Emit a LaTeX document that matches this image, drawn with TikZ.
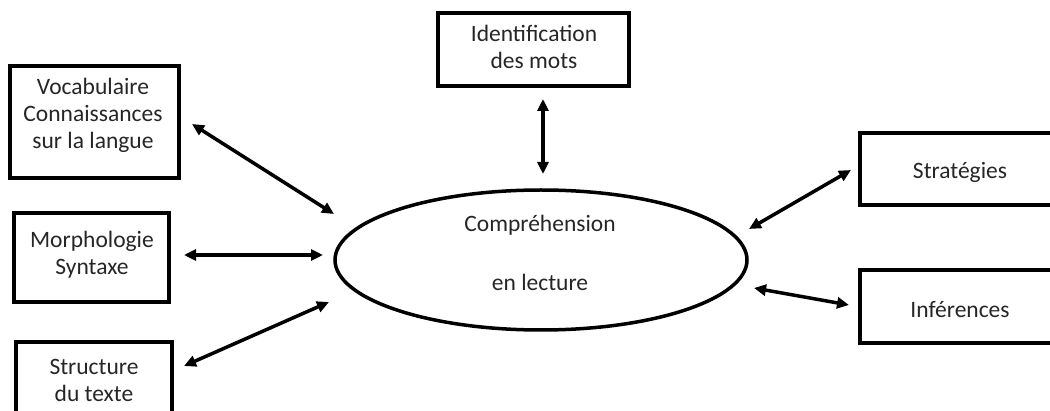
\documentclass[tikz,border=0pt]{standalone}
\usepackage{fontspec}
\setmainfont{Carlito}
\usetikzlibrary{arrows.meta}
\begin{document}
\begin{tikzpicture}[x=1pt,y=-1pt,
  txt/.style={text=black!85,font=\fontsize{23.5}{27}\selectfont,align=center},
  boxed/.style={draw=black,line width=4pt},
  link/.style={line width=3.5pt,{Triangle[length=12pt,width=11pt]}-{Triangle[length=12pt,width=11pt]}}]
\useasboundingbox (0,0) rectangle (1050,411);
\clip (0,0) rectangle (1050,411);
% boxes
\draw[boxed] (10,66) rectangle (179,178);
\node[txt] (vocab) at (93,115) {Vocabulaire\\Connaissances\\sur la langue};
\draw[boxed] (14,213) rectangle (169,302);
\node[txt] (morph) at (92,255) {Morphologie\\Syntaxe};
\draw[boxed] (16,342) rectangle (172,440);
\node[txt] (struct) at (94,380) {Structure\\du texte};
\draw[boxed,line width=3.5pt] (438,13) rectangle (629,86);
\node[txt] (ident) at (534,47) {Identification\\des mots};
\draw[boxed] (860,133) rectangle (1070,205);
\node[txt] (strat) at (960,172) {Stratégies};
\draw[boxed] (860,270) rectangle (1070,343);
\node[txt] (infer) at (960,310) {Inférences};
% ellipse
\draw[line width=3.5pt] (541,260) ellipse [x radius=206, y radius=70];
\node[txt] (comp) at (540,225) {Compréhension};
\node[txt] (lect) at (540,282) {en lecture};
% arrow end points
\coordinate (a1) at (192,124); \coordinate (b1) at (334,214);
\coordinate (a2) at (184,255); \coordinate (b2) at (323,255);
\coordinate (a3) at (184,366); \coordinate (b3) at (329,302);
\coordinate (a4) at (543,99);  \coordinate (b4) at (543,174);
\coordinate (a5) at (749,229); \coordinate (b5) at (851,170);
\coordinate (a6) at (754,288); \coordinate (b6) at (849,305);
\draw[link] (a1) -- (b1);
\draw[link] (a2) -- (b2);
\draw[link] (a3) -- (b3);
\draw[link] (a4) -- (b4);
\draw[link] (a5) -- (b5);
\draw[link] (a6) -- (b6);
\end{tikzpicture}
\end{document}
